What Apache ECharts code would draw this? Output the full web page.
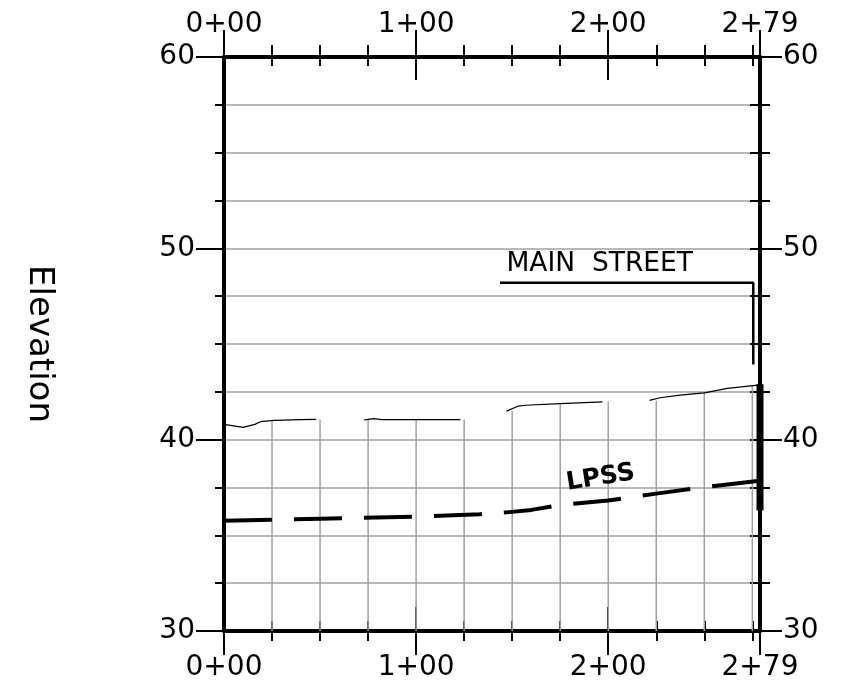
<!DOCTYPE html>
<html><head><meta charset="utf-8">
<script src="https://cdn.jsdelivr.net/npm/echarts@6/dist/echarts.min.js"></script>
<style>html,body{margin:0;padding:0;background:#fff}#c{width:850px;height:682px}</style>
</head><body><div id="c"></div>
<script>
// ---- data ----
const stationLabels = [0, 100, 200, 279];
const stationMajor = [100, 200];
const stationEnds = [0, 279];
const elevLabels = [30, 40, 50, 60];
const gridStations = [25, 50, 75, 100, 125, 150, 175, 200, 225, 250, 275];
const gridTops = [41.03, 41.06, 41.05, 41.03, 41.05, 41.5, 41.84, 42.0, 42.03, 42.47, 42.8];
const groundSeg1 = [[0, 40.8], [10, 40.64], [16, 40.8], [19, 40.94], [26, 41.01], [40, 41.05], [48, 41.06]];
const groundSeg2 = [[73, 41.03], [78, 41.1], [82, 41.05], [123, 41.05]];
const groundSeg3 = [[147, 41.49], [153, 41.75], [157, 41.8], [175, 41.88], [197, 41.98]];
const groundSeg4 = [[221.5, 42.05], [227, 42.19], [237.5, 42.33], [250, 42.45], [262, 42.68], [279, 42.86]];
const lpss = [[0, 35.76], [50, 35.87], [100, 35.98], [133, 36.1], [147, 36.2], [160, 36.33], [175, 36.58], [200, 36.82], [225, 37.18], [250, 37.52], [279, 37.85]];
const mhBar = [[279, 36.3], [279, 42.9]];
const mainLeader = [[143.7, 48.2], [275.5, 48.2], [275.5, 43.93]];
const mainLabelPos = [147, 49.2];
const lpssLabelPos = [196, 38.0];
const mainLabel = 'MAIN  STREET';
const lpssLabel = 'LPSS';
const yName = 'Elevation';

// ---- chart ----
const fmt = v => Math.floor(v / 100) + '+' + String(Math.round(v % 100)).padStart(2, '0');
const font = { fontFamily: "'DejaVu Sans', sans-serif", fontWeight: 'normal', fontSize: 28, color: '#000' };
const tickStyle = { color: '#000', width: 2 };
const noLine = { show: false, onZero: false };
const xb = { type: 'value', min: 0, max: 279, splitLine: { show: false } };
const yb = { type: 'value', min: 30, max: 60, splitLine: { show: false } };

const xAxis = [
  { ...xb, position: 'top', axisLine: { show: true, onZero: false, lineStyle: { color: '#000', width: 4 } },
    axisTick: { show: true, customValues: stationEnds, length: 27, lineStyle: tickStyle },
    axisLabel: { show: true, customValues: stationLabels, formatter: fmt, margin: 18, ...font } },
  { ...xb, position: 'top', offset: -23, axisLine: noLine,
    axisTick: { show: true, customValues: stationMajor, length: 50, lineStyle: tickStyle }, axisLabel: { show: false } },
  { ...xb, position: 'top', offset: -9, interval: 25, axisLine: noLine,
    axisTick: { show: true, length: 21, lineStyle: tickStyle }, axisLabel: { show: false } },
  { ...xb, position: 'bottom', axisLine: { show: true, onZero: false, lineStyle: { color: '#000', width: 4 } },
    axisTick: { show: true, customValues: stationEnds, length: 24, lineStyle: tickStyle },
    axisLabel: { show: true, customValues: stationLabels, formatter: fmt, margin: 23, ...font } },
  { ...xb, position: 'bottom', offset: -24, axisLine: noLine,
    axisTick: { show: true, customValues: stationMajor, length: 48, lineStyle: tickStyle }, axisLabel: { show: false } },
  { ...xb, position: 'bottom', offset: -10, interval: 25, axisLine: noLine,
    axisTick: { show: true, length: 20, lineStyle: tickStyle }, axisLabel: { show: false } }
];

const yAxis = [
  { ...yb, position: 'left', axisLine: { show: true, onZero: false, lineStyle: { color: '#000', width: 4 } },
    axisTick: { show: true, customValues: elevLabels, length: 28, lineStyle: tickStyle },
    axisLabel: { show: true, customValues: elevLabels, margin: 29, ...font },
    name: yName, nameLocation: 'middle', nameRotate: -90, nameGap: 168,
    nameTextStyle: { fontFamily: "'DejaVu Sans', sans-serif", fontWeight: 'normal', fontSize: 34, color: '#000' } },
  { ...yb, position: 'left', interval: 2.5, axisLine: noLine,
    axisTick: { show: true, length: 9, lineStyle: tickStyle }, axisLabel: { show: false },
    splitLine: { show: true, lineStyle: { color: '#a0a0a0', width: 1.5 } } },
  { ...yb, position: 'right', axisLine: { show: true, onZero: false, lineStyle: { color: '#000', width: 4 } },
    axisTick: { show: true, customValues: elevLabels, length: 22, lineStyle: tickStyle },
    axisLabel: { show: true, customValues: elevLabels, margin: 23, ...font } },
  { ...yb, position: 'right', offset: -10, interval: 2.5, axisLine: noLine,
    axisTick: { show: true, length: 20, lineStyle: tickStyle }, axisLabel: { show: false } }
];

const lineSer = (data, width, extra) => Object.assign({
  type: 'line', xAxisIndex: 0, yAxisIndex: 0, data: data, symbol: 'none', silent: true,
  lineStyle: { color: '#000', width: width }
}, extra || {});

const series = [
  { type: 'custom', xAxisIndex: 0, yAxisIndex: 0, z: 1, silent: true,
    data: gridStations.map((s, i) => [s, gridTops[i]]),
    renderItem: (params, api) => {
      const p1 = api.coord([api.value(0), 30]);
      const p2 = api.coord([api.value(0), api.value(1)]);
      return { type: 'line', shape: { x1: p1[0], y1: p1[1], x2: p2[0], y2: p2[1] },
        style: { stroke: '#a0a0a0', lineWidth: 1.5 } };
    } },
  ...[groundSeg1, groundSeg2, groundSeg3, groundSeg4].map(seg => lineSer(seg, 1.2)),
  lineSer(lpss, 4, { lineStyle: { color: '#000', width: 4, type: [48, 22], cap: 'butt' } }),
  lineSer(mhBar, 7, { clip: false }),
  lineSer(mainLeader, 2.5, { clip: false }),
  { type: 'scatter', xAxisIndex: 0, yAxisIndex: 0, symbolSize: 0, silent: true, data: [mainLabelPos],
    itemStyle: { opacity: 1 },
    label: { show: true, formatter: mainLabel, position: 'right', distance: 0, opacity: 1,
      fontFamily: "'DejaVu Sans', sans-serif", fontSize: 26.5, color: '#000' } },
  { type: 'scatter', xAxisIndex: 0, yAxisIndex: 0, symbolSize: 0, silent: true, data: [lpssLabelPos],
    itemStyle: { opacity: 1 },
    label: { show: true, formatter: lpssLabel, position: 'inside', rotate: 9, opacity: 1,
      fontFamily: "'DejaVu Sans', sans-serif", fontWeight: 'bold', fontSize: 25, color: '#000' } }
];

const chart = echarts.init(document.getElementById('c'), null, { renderer: 'canvas' });
chart.setOption({
  animation: false,
  backgroundColor: '#fff',
  grid: { left: 224, right: 90, top: 57, bottom: 50, containLabel: false },
  xAxis: xAxis,
  yAxis: yAxis,
  series: series
});
</script>
</body></html>
